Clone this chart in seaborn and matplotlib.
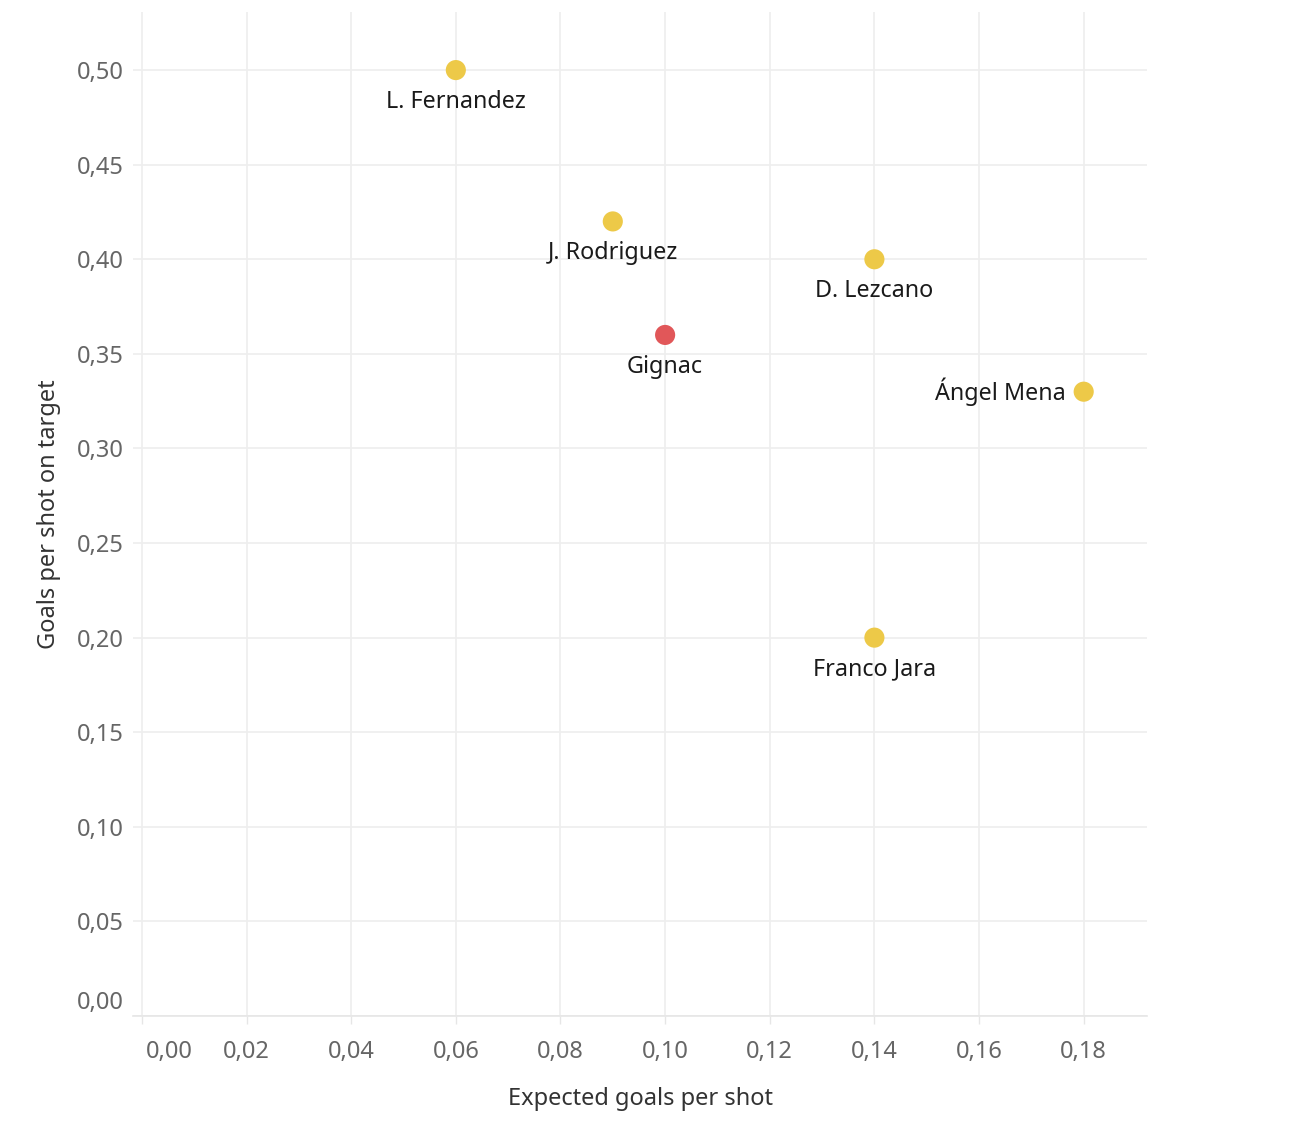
import numpy as np
import pandas as pd
import matplotlib
matplotlib.use("Agg")
import matplotlib.pyplot as plt
import matplotlib.transforms as mtransforms
import seaborn as sns

# data
players = ["L. Fernandez", "J. Rodriguez", "D. Lezcano", "Gignac", "Ángel Mena", "Franco Jara"]
xg_per_shot = [0.06, 0.09, 0.14, 0.10, 0.18, 0.14]
goals_per_sot = [0.50, 0.42, 0.40, 0.36, 0.33, 0.20]
group = ["other", "other", "other", "highlight", "other", "other"]

x_ticks = [0.00, 0.02, 0.04, 0.06, 0.08, 0.10, 0.12, 0.14, 0.16, 0.18]
y_ticks = [0.00, 0.05, 0.10, 0.15, 0.20, 0.25, 0.30, 0.35, 0.40, 0.45, 0.50]

df = pd.DataFrame({"player": players, "x": xg_per_shot, "y": goals_per_sot, "group": group})

sns.set_theme(style="white")
plt.rcParams['font.family'] = ['Noto Sans', 'DejaVu Sans']

fig = plt.figure(figsize=(13.06, 11.38), dpi=100)
ax = fig.add_axes([133 / 1306, 1 - 1016 / 1138, (1147 - 133) / 1306, (1016 - 12) / 1138])

sns.scatterplot(data=df, x="x", y="y", hue="group",
                palette={"other": "#EDC948", "highlight": "#E15759"},
                s=210, edgecolor="none", legend=False, ax=ax, zorder=3)

# labels under the points, Ángel Mena to the left
for _, r in df.iterrows():
    if r["player"] == "Ángel Mena":
        ax.annotate(r["player"], (r["x"], r["y"]), xytext=(-13, 0), textcoords="offset points",
                    ha="right", va="center", fontsize=16.8, color="#1a1a1a")
    else:
        ax.annotate(r["player"], (r["x"], r["y"]), xytext=(0, -23), textcoords="offset points",
                    ha="center", va="center", fontsize=16.8, color="#1a1a1a")

ax.set_xlim(-0.0017, 0.1921)
ax.set_ylim(0, 0.5307)
ax.set_xticks(x_ticks)
ax.set_yticks(y_ticks)
ax.set_xticklabels([f"{v:.2f}".replace(".", ",") for v in x_ticks])
ax.set_yticklabels([f"{v:.2f}".replace(".", ",") for v in y_ticks])

ax.grid(True, color="#EEEEEE", linewidth=1.2)
ax.set_axisbelow(True)
for side in ["top", "right", "left"]:
    ax.spines[side].set_visible(False)
ax.spines["bottom"].set_color("#E6E6E6")
ax.spines["bottom"].set_linewidth(1.2)

ax.tick_params(axis="x", which="both", bottom=True, length=6, width=1, color="#E6E6E6",
               labelsize=17, labelcolor="#666666", pad=11)
ax.tick_params(axis="y", which="both", left=False, labelsize=17, labelcolor="#666666", pad=1)

# nudge the corner labels like the original
xl = ax.get_xticklabels()[0]
xl.set_transform(xl.get_transform() + mtransforms.ScaledTranslation(27 / 100, 0, fig.dpi_scale_trans))
yl = ax.get_yticklabels()[0]
yl.set_transform(yl.get_transform() + mtransforms.ScaledTranslation(0, 16 / 100, fig.dpi_scale_trans))

ax.set_xlabel("Expected goals per shot", fontsize=17, color="#333333", labelpad=17, fontweight="medium")
ax.set_ylabel("Goals per shot on target", fontsize=17, color="#333333", labelpad=11, fontweight="medium")

fig.savefig("out.png", dpi=100)
